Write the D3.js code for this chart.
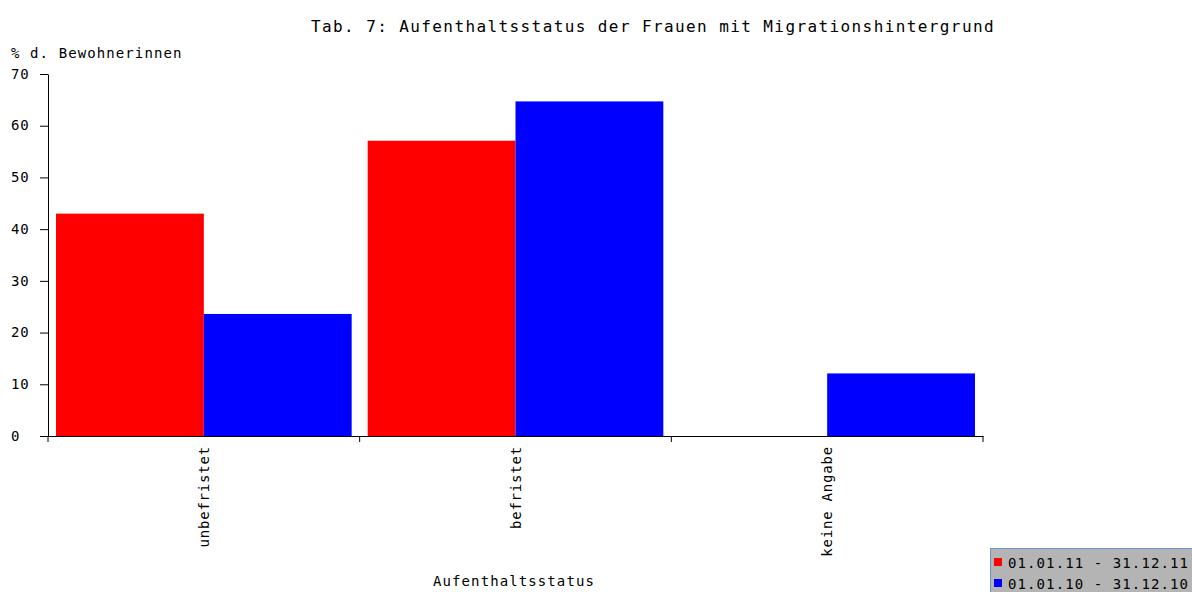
<!DOCTYPE html>
<html>
<head>
<meta charset="utf-8">
<script src="https://cdn.jsdelivr.net/npm/d3@7/dist/d3.min.js"></script>
<style>
    body { margin: 0; background: #fff; }
    text { font-family: "DejaVu Sans Mono", monospace; fill: #000; }
</style>
</head>
<body>
<svg id="chart" width="1192" height="592"></svg>
<script>
"use strict";
const categories = ["unbefristet", "befristet", "keine Angabe"];
const seriesNames = ["01.01.11 - 31.12.11", "01.01.10 - 31.12.10"];
const seriesColors = ["#ff0000", "#0000ff"];
const values2011 = [43.0, 57.1, 0];
const values2010 = [23.6, 64.7, 12.1];
const yTicks = [0, 10, 20, 30, 40, 50, 60, 70];

const svg = d3.select("#chart");
const plotLeft = 48, plotRight = 983, plotTop = 74, plotBottom = 436;

const x0 = d3.scaleBand().domain(categories).range([plotLeft, plotRight]);
const x1 = d3.scaleBand().domain([0, 1])
    .range([8, x0.bandwidth() - 8]);
const y = d3.scaleLinear().domain([0, 70]).range([plotBottom, plotTop]);

const rows = categories.map((c, i) => ({ cat: c, vals: [values2011[i], values2010[i]] }));

// bars
const groups = svg.selectAll("g.cat").data(rows).enter().append("g")
    .attr("class", "cat")
    .attr("transform", d => "translate(" + x0(d.cat) + ",0)");
groups.selectAll("rect").data(d => d.vals.map((v, k) => ({ v: v, k: k })))
    .enter().append("rect")
    .attr("x", d => x1(d.k))
    .attr("width", x1.bandwidth())
    .attr("y", d => y(d.v))
    .attr("height", d => plotBottom - y(d.v))
    .attr("fill", d => seriesColors[d.k]);

// y axis
const yAxis = svg.append("g")
    .attr("transform", "translate(" + plotLeft + ",0)")
    .call(d3.axisLeft(y).tickValues(yTicks).tickSize(8).tickSizeOuter(0));
yAxis.selectAll("text").attr("text-anchor", "start").attr("x", -37)
    .style("font-size", "14px").style("letter-spacing", "0.8px")
    .attr("dy", "0.3em");

// x axis
const xAxis = svg.append("g")
    .attr("transform", "translate(0," + plotBottom + ")")
    .call(d3.axisBottom(x0).tickSize(0).tickSizeOuter(0).tickFormat(""));
xAxis.selectAll(".tick").remove();
xAxis.selectAll("line.sep").data(d3.range(categories.length + 1)).enter()
    .append("line")
    .attr("x1", i => plotLeft + i * x0.bandwidth())
    .attr("x2", i => plotLeft + i * x0.bandwidth())
    .attr("y1", 0).attr("y2", 6)
    .attr("stroke", "#000");
svg.selectAll(".domain").attr("stroke", "#000");

// category labels
svg.selectAll("text.catlabel").data(categories).enter().append("text")
    .attr("class", "catlabel")
    .attr("transform", d => "translate(" + (x0(d) + x0.bandwidth() / 2 + 5) + "," + (plotBottom + 10) + ") rotate(-90)")
    .attr("text-anchor", "end")
    .style("font-size", "14px")
    .style("letter-spacing", "0.8px")
    .text(d => d);

// title and axis titles
svg.append("text")
    .attr("x", 653).attr("y", 32)
    .attr("text-anchor", "middle")
    .style("font-size", "16px")
    .style("letter-spacing", "1.4px")
    .text("Tab. 7: Aufenthaltsstatus der Frauen mit Migrationshintergrund");

svg.append("text")
    .attr("x", 11).attr("y", 58)
    .style("font-size", "14px")
    .style("letter-spacing", "1.1px")
    .text("% d. Bewohnerinnen");

svg.append("text")
    .attr("x", 514).attr("y", 586)
    .attr("text-anchor", "middle")
    .style("font-size", "14px")
    .style("letter-spacing", "1.1px")
    .text("Aufenthaltsstatus");

// legend
const legend = svg.append("g").attr("transform", "translate(990,548)");
legend.append("rect")
    .attr("x", 0.5).attr("y", 0.5)
    .attr("width", 205).attr("height", 50)
    .attr("fill", "#b4b4b4")
    .attr("stroke", "#6a8fd8");
seriesNames.forEach((name, i) => {
    legend.append("rect")
        .attr("x", 4).attr("y", 10 + i * 21)
        .attr("width", 8).attr("height", 8)
        .attr("fill", seriesColors[i]);
    legend.append("text")
        .attr("x", 18).attr("y", 19.5 + i * 21)
        .style("font-size", "14px")
        .style("letter-spacing", "1.1px")
        .text(name);
});
</script>
</body>
</html>
